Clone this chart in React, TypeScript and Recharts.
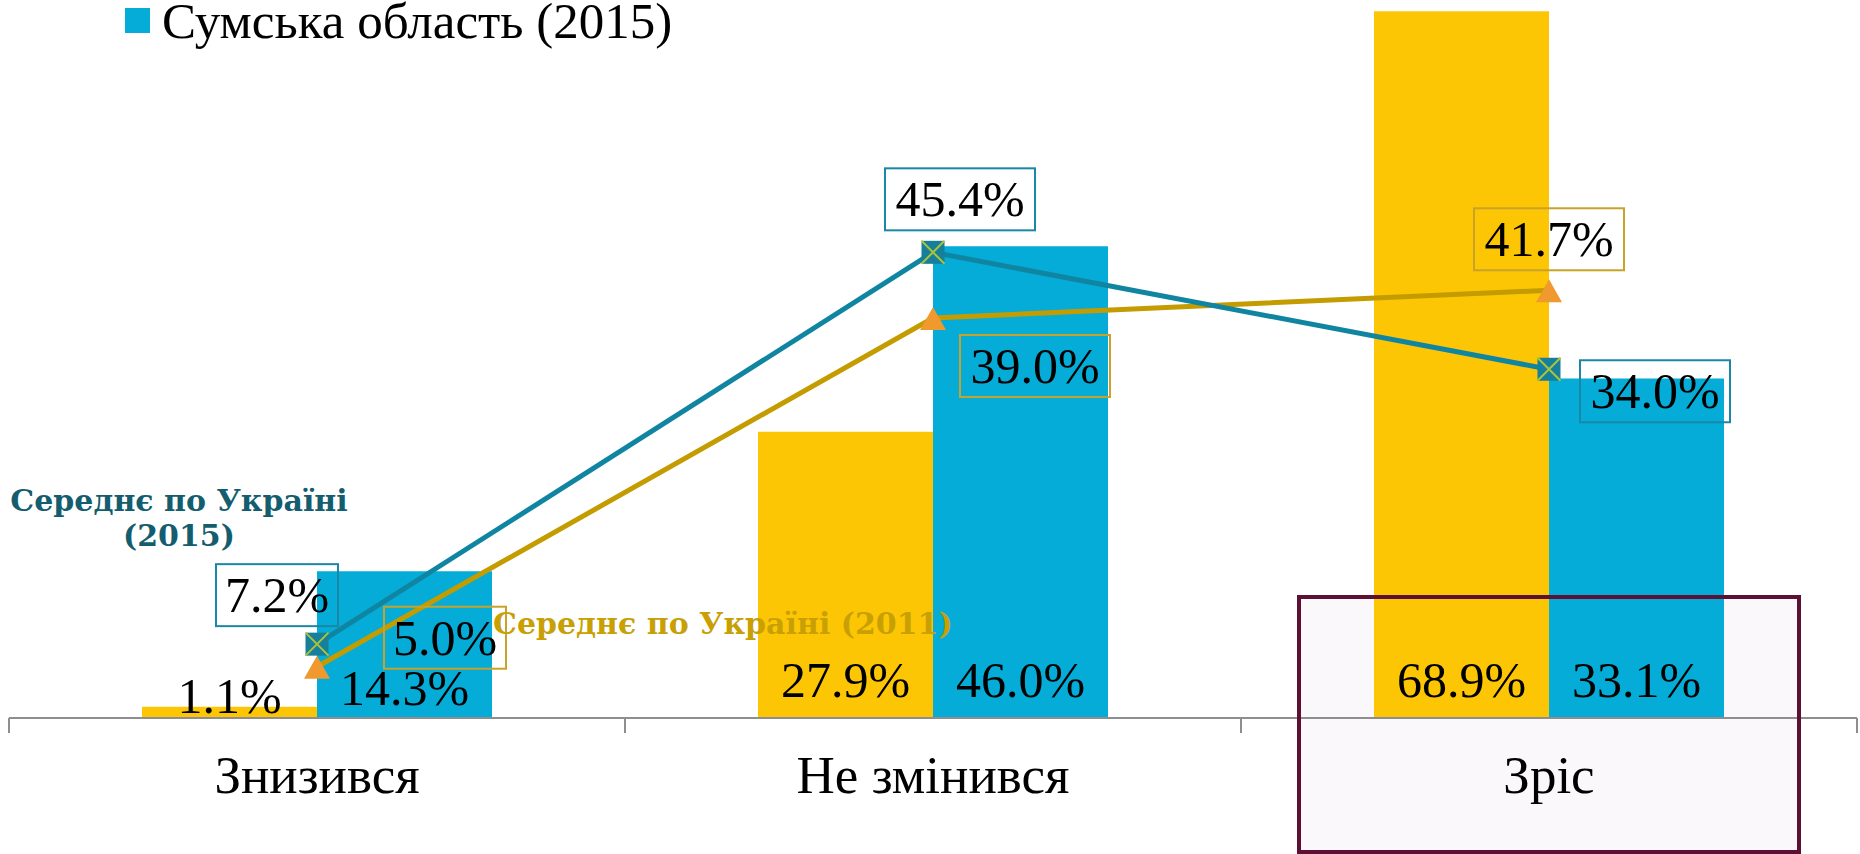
import React from "react";
import { ComposedChart, Bar, Line, XAxis, YAxis, Legend, LabelList } from "recharts";

const categories = ["Знизився", "Не змінився", "Зріс"];
const sumy2011 = [1.1, 27.9, 68.9];
const sumy2015 = [14.3, 46.0, 33.1];
const ukraine2015 = [7.2, 45.4, 34.0];
const ukraine2011 = [5.0, 39.0, 41.7];

const data = categories.map((name, i) => ({
  name,
  sumy2011: sumy2011[i],
  sumy2015: sumy2015[i],
  ukraine2015: ukraine2015[i],
  ukraine2011: ukraine2011[i],
}));

// label box offsets from the marker (dx, dy)
const ukraine2015LabelOffsets = [[-40, -49], [27, -53], [106, 22]];
const ukraine2011LabelOffsets = [[128, -29], [102, 48], [0, -51]];

const W = 1860;
const H = 854;
const MARGIN = { top: 0, right: 3, left: 9, bottom: 0 };
const XAXIS_H = 136;
const PLOT_BOTTOM = H - MARGIN.bottom - XAXIS_H;
const HALF_BAND = (W - MARGIN.left - MARGIN.right) / categories.length / 2;

const FONT = "'Liberation Serif', serif";
const BOLD_FONT = "'DejaVu Serif', serif";
const YELLOW = "#fdc605";
const BLUE = "#04acd7";
const TEAL_LINE = "#0f85a2";
const GOLD_LINE = "#c49c00";
const AXIS = "#8e8e8e";

const fmt = (v: number) => v.toFixed(1) + "%";

const BarValueLabel = (props: any) => {
  const { x, y, width, height, value } = props;
  const off = height < 50 ? 5 : height < 200 ? 13 : 21;
  return (
    <text x={x + width / 2} y={y + height - off} textAnchor="middle" fontFamily={FONT} fontSize={50} fill="#000">
      {fmt(value)}
    </text>
  );
};

const boxLabel = (offsets: number[][], border: string) => (props: any) => {
  const { x, y, value, index } = props;
  const [dx, dy] = offsets[index];
  const text = fmt(value);
  const w = text.length === 4 ? 122 : 150;
  const h = 62;
  const cx = x + dx;
  const cy = y + dy;
  return (
    <g>
      <rect x={cx - w / 2} y={cy - h / 2} width={w} height={h} fill="none" stroke={border} strokeWidth={2} />
      <text x={cx} y={cy + 17} textAnchor="middle" fontFamily={FONT} fontSize={50} fill="#000">
        {text}
      </text>
    </g>
  );
};

const SquareDot = (props: any) => {
  const { cx, cy } = props;
  const s = 23;
  return (
    <g>
      <rect x={cx - s / 2} y={cy - s / 2} width={s} height={s} fill="#177f99" />
      <path
        d={`M${cx - s / 2} ${cy - s / 2}L${cx + s / 2} ${cy + s / 2}M${cx + s / 2} ${cy - s / 2}L${cx - s / 2} ${cy + s / 2}`}
        stroke="#a9c43c"
        strokeWidth={2}
      />
    </g>
  );
};

const TriangleDot = (props: any) => {
  const { cx, cy } = props;
  return <polygon points={`${cx},${cy - 11} ${cx - 13},${cy + 12} ${cx + 13},${cy + 12}`} fill="#f0992f" />;
};

const CategoryTick = (props: any) => {
  const { x, payload, index } = props;
  return (
    <g>
      <line x1={x - HALF_BAND} y1={PLOT_BOTTOM} x2={x - HALF_BAND} y2={PLOT_BOTTOM + 15} stroke={AXIS} strokeWidth={2} />
      {index === categories.length - 1 && (
        <line x1={x + HALF_BAND} y1={PLOT_BOTTOM} x2={x + HALF_BAND} y2={PLOT_BOTTOM + 15} stroke={AXIS} strokeWidth={2} />
      )}
      <text x={x} y={793} textAnchor="middle" fontFamily={FONT} fontSize={53} fill="#000">
        {payload.value}
      </text>
    </g>
  );
};

const LegendContent = (props: any) => {
  const items = (props.payload || []).filter((p: any) => p.dataKey === "sumy2015");
  return (
    <div style={{ position: "relative", height: 50 }}>
      {items.map((p: any) => (
        <React.Fragment key={p.value}>
          <div style={{ position: "absolute", left: 5, top: 12, width: 25, height: 25, background: BLUE }} />
          <div
            style={{
              position: "absolute",
              left: 42,
              top: 0,
              fontFamily: FONT,
              fontSize: 51,
              lineHeight: "50px",
              whiteSpace: "nowrap",
              color: "#000",
            }}
          >
            {p.value}
          </div>
        </React.Fragment>
      ))}
    </div>
  );
};

export default function App() {
  return (
    <div style={{ position: "absolute", left: 0, top: 0, width: W, height: H, background: "#fff", overflow: "hidden" }}>
      <div style={{ position: "absolute", left: 1297, top: 595, width: 504, height: 259, background: "#faf8fa" }} />
      <div style={{ position: "absolute", left: 0, top: 0 }}>
        <ComposedChart width={W} height={H} data={data} margin={MARGIN} barGap={0}>
          <XAxis
            dataKey="name"
            height={XAXIS_H}
            axisLine={{ stroke: AXIS, strokeWidth: 2 }}
            tickLine={false}
            tick={<CategoryTick />}
            interval={0}
          />
          <YAxis hide domain={[0, 70]} />
          <Legend
            layout="horizontal"
            verticalAlign="middle"
            align="center"
            content={<LegendContent />}
            wrapperStyle={{ top: -4, left: 120, width: 720, height: 50 }}
          />
          <Bar dataKey="sumy2011" name="Сумська область (2011)" fill={YELLOW} barSize={175} isAnimationActive={false}>
            <LabelList dataKey="sumy2011" content={<BarValueLabel />} />
          </Bar>
          <Bar dataKey="sumy2015" name="Сумська область (2015)" fill={BLUE} barSize={175} isAnimationActive={false}>
            <LabelList dataKey="sumy2015" content={<BarValueLabel />} />
          </Bar>
          <Line
            type="linear"
            dataKey="ukraine2011"
            name="Середнє по Україні (2011)"
            stroke={GOLD_LINE}
            strokeWidth={5}
            dot={<TriangleDot />}
            isAnimationActive={false}
          >
            <LabelList dataKey="ukraine2011" content={boxLabel(ukraine2011LabelOffsets, "#c9a22a")} />
          </Line>
          <Line
            type="linear"
            dataKey="ukraine2015"
            name="Середнє по Україні (2015)"
            stroke={TEAL_LINE}
            strokeWidth={5}
            dot={<SquareDot />}
            isAnimationActive={false}
          >
            <LabelList dataKey="ukraine2015" content={boxLabel(ukraine2015LabelOffsets, "#1b87a6")} />
          </Line>
        </ComposedChart>
      </div>
      <svg
        width={W}
        height={H}
        style={{ position: "absolute", left: 0, top: 0, pointerEvents: "none" }}
      >
        <text x={179} y={511} textAnchor="middle" fontFamily={BOLD_FONT} fontWeight="bold" fontSize={30} fill="#135d6f">
          Середнє по Україні
        </text>
        <text x={179} y={546} textAnchor="middle" fontFamily={BOLD_FONT} fontWeight="bold" fontSize={30} fill="#135d6f">
          (2015)
        </text>
        <text x={493} y={634} fontFamily={BOLD_FONT} fontWeight="bold" fontSize={30} fill="#c8a004">
          Середнє по Україні (2011)
        </text>
      </svg>
      <div
        style={{
          position: "absolute",
          left: 1297,
          top: 595,
          width: 504,
          height: 259,
          boxSizing: "border-box",
          border: "4px solid #5c1034",
          pointerEvents: "none",
        }}
      />
    </div>
  );
}
